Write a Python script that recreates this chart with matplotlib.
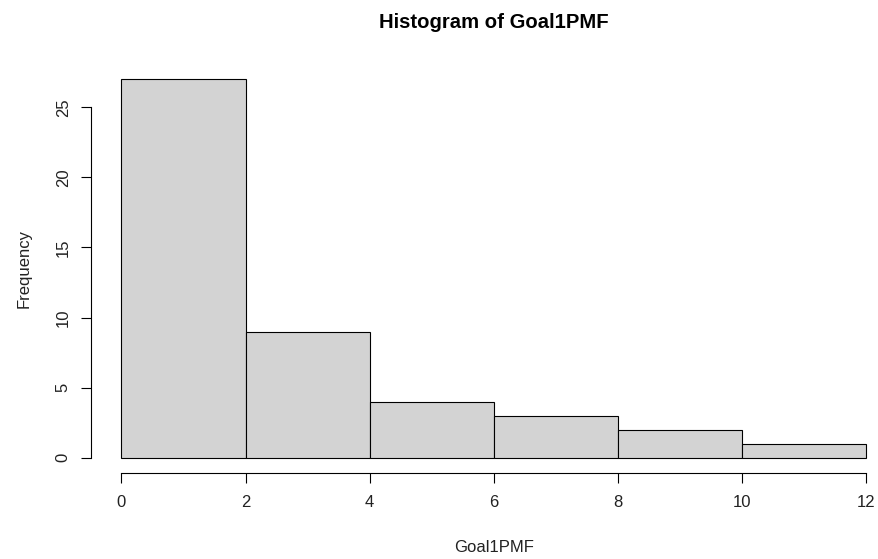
import matplotlib.pyplot as plt
import numpy as np

# histogram bins and counts
bin_edges = [0, 2, 4, 6, 8, 10, 12]
counts = [27, 9, 4, 3, 2, 1]
x_ticks = [0, 2, 4, 6, 8, 10, 12]
y_ticks = [0, 5, 10, 15, 20, 25]

W, H = 879, 559
plt.rcParams['font.family'] = ['Liberation Sans', 'DejaVu Sans']

fig = plt.figure(figsize=(W / 100, H / 100), dpi=100)

# axes box in pixels (R-style 4% padding around data range)
left_px, right_px = 91, 879
top_px, bottom_px = 64, 473
ax = fig.add_axes([left_px / W, (H - bottom_px) / H,
                   (right_px - left_px) / W, (bottom_px - top_px) / H])

px_per_x = (866 - 121.5) / 12
ax.set_xlim(-(121.5 - left_px) / px_per_x, 12 + (right_px - 866) / px_per_x)
ax.set_ylim(-1.08, 28.08)

widths = np.diff(bin_edges)
ax.bar(bin_edges[:-1], counts, width=widths, align='edge',
       color='#d3d3d3', edgecolor='black', linewidth=0.8)

for s in ['top', 'right']:
    ax.spines[s].set_visible(False)
ax.spines['bottom'].set_bounds(0, 12)
ax.spines['left'].set_bounds(0, 25)
ax.spines['bottom'].set_linewidth(0.8)
ax.spines['left'].set_linewidth(0.8)

ax.set_xticks(x_ticks)
ax.set_yticks(y_ticks)
ax.tick_params(direction='out', length=7, width=0.8, labelsize=12,
               colors='black', labelcolor='#222222')
ax.tick_params(axis='x', pad=8.5)
ax.tick_params(axis='y', pad=7.5)
for lbl in ax.get_yticklabels():
    lbl.set_rotation(90)
    lbl.set_va('center')

cx = 494 / W
fig.text(cx, 1 - 28 / H, 'Histogram of Goal1PMF',
         ha='center', va='baseline', fontsize=14.6, fontweight='bold')
fig.text(cx, 1 - 552 / H, 'Goal1PMF',
         ha='center', va='baseline', fontsize=12, color='#222222')
fig.text(24 / W, 1 - 268 / H, 'Frequency', rotation=90,
         ha='center', va='center', fontsize=12, color='#222222')

fig.savefig('out.png', dpi=100)
